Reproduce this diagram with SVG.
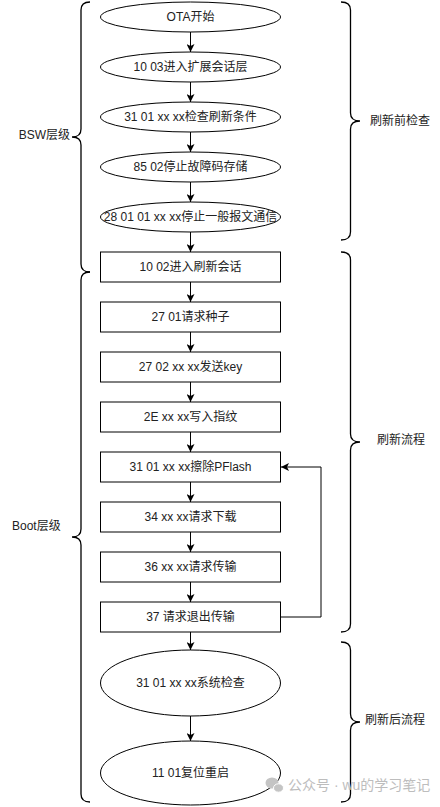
<svg xmlns="http://www.w3.org/2000/svg" width="440" height="807" viewBox="0 0 440 807">
<style>
.n{fill:#fff;stroke:#000;stroke-width:1}
.t{font-family:"Liberation Sans","Noto Sans CJK SC",sans-serif;font-size:12px;fill:#222;text-anchor:middle}
.l{font-family:"Liberation Sans","Noto Sans CJK SC",sans-serif;font-size:12px;fill:#222}
.c{fill:none;stroke:#000;stroke-width:1}
.b{fill:none;stroke:#000;stroke-width:1.3}
.w{font-family:"Liberation Sans","Noto Sans CJK SC",sans-serif;font-size:14px;fill:#bdbdbd}
</style>
<defs>
<marker id="arr" markerUnits="userSpaceOnUse" markerWidth="10" markerHeight="8" viewBox="0 0 10 8" refX="9" refY="4" orient="auto">
<path d="M1,0 L9,4 L1,8 L3,4 Z" fill="#000"/>
</marker>
</defs>
<rect width="440" height="807" fill="#fff"/>
<g id="connectors">
<line class="c" x1="190.5" y1="32" x2="190.5" y2="52" marker-end="url(#arr)"/>
<line class="c" x1="190.5" y1="82" x2="190.5" y2="102" marker-end="url(#arr)"/>
<line class="c" x1="190.5" y1="132" x2="190.5" y2="152" marker-end="url(#arr)"/>
<line class="c" x1="190.5" y1="182" x2="190.5" y2="202" marker-end="url(#arr)"/>
<line class="c" x1="190.5" y1="232" x2="190.5" y2="252" marker-end="url(#arr)"/>
<line class="c" x1="190.5" y1="282" x2="190.5" y2="302" marker-end="url(#arr)"/>
<line class="c" x1="190.5" y1="332" x2="190.5" y2="352" marker-end="url(#arr)"/>
<line class="c" x1="190.5" y1="382" x2="190.5" y2="402" marker-end="url(#arr)"/>
<line class="c" x1="190.5" y1="432" x2="190.5" y2="452" marker-end="url(#arr)"/>
<line class="c" x1="190.5" y1="482" x2="190.5" y2="502" marker-end="url(#arr)"/>
<line class="c" x1="190.5" y1="532" x2="190.5" y2="552" marker-end="url(#arr)"/>
<line class="c" x1="190.5" y1="582" x2="190.5" y2="602" marker-end="url(#arr)"/>
<line class="c" x1="190.5" y1="632" x2="190.5" y2="650" marker-end="url(#arr)"/>
<line class="c" x1="190.5" y1="716" x2="190.5" y2="741" marker-end="url(#arr)"/>
<polyline class="c" points="280.5,617 321,617 321,467 281,467" marker-end="url(#arr)"/>
</g>
<g id="n1"><ellipse class="n" cx="190.5" cy="17" rx="90" ry="15"/><text class="t" x="190.5" y="21">OTA开始</text></g>
<g id="n2"><ellipse class="n" cx="190.5" cy="67" rx="90" ry="15"/><text class="t" x="190.5" y="71">10 03进入扩展会话层</text></g>
<g id="n3"><ellipse class="n" cx="190.5" cy="117" rx="90" ry="15"/><text class="t" x="190.5" y="121">31 01 xx xx检查刷新条件</text></g>
<g id="n4"><ellipse class="n" cx="190.5" cy="167" rx="90" ry="15"/><text class="t" x="190.5" y="171">85 02停止故障码存储</text></g>
<g id="n5"><ellipse class="n" cx="190.5" cy="217" rx="90" ry="15"/><text class="t" x="190.5" y="221">28 01 01 xx xx停止一般报文通信</text></g>
<g id="n6"><rect class="n" x="100.5" y="252" width="180" height="30"/><text class="t" x="190.5" y="271">10 02进入刷新会话</text></g>
<g id="n7"><rect class="n" x="100.5" y="302" width="180" height="30"/><text class="t" x="190.5" y="321">27 01请求种子</text></g>
<g id="n8"><rect class="n" x="100.5" y="352" width="180" height="30"/><text class="t" x="190.5" y="371">27 02 xx xx发送key</text></g>
<g id="n9"><rect class="n" x="100.5" y="402" width="180" height="30"/><text class="t" x="190.5" y="421">2E xx xx写入指纹</text></g>
<g id="n10"><rect class="n" x="100.5" y="452" width="180" height="30"/><text class="t" x="190.5" y="471">31 01 xx xx擦除PFlash</text></g>
<g id="n11"><rect class="n" x="100.5" y="502" width="180" height="30"/><text class="t" x="190.5" y="521">34 xx xx请求下载</text></g>
<g id="n12"><rect class="n" x="100.5" y="552" width="180" height="30"/><text class="t" x="190.5" y="571">36 xx xx请求传输</text></g>
<g id="n13"><rect class="n" x="100.5" y="602" width="180" height="30"/><text class="t" x="190.5" y="621">37 请求退出传输</text></g>
<g id="n14"><ellipse class="n" cx="190.5" cy="683" rx="90" ry="33"/><text class="t" x="190.5" y="687">31 01 xx xx系统检查</text></g>
<g id="n15"><ellipse class="n" cx="190.5" cy="773" rx="90" ry="32"/><text class="t" x="190.5" y="777">11 01复位重启</text></g>
<g id="brace-bsw"><path class="b" d="M90,2 Q81,2 81,10 L81,129 Q81,137 72,137 Q81,137 81,145 L81,264 Q81,272 90,272"/><text class="l" x="70" y="139" text-anchor="end">BSW层级</text></g>
<g id="brace-boot"><path class="b" d="M90,272 Q81,272 81,280 L81,529 Q81,537 72,537 Q81,537 81,545 L81,794 Q81,802 90,802"/><text class="l" x="12" y="530">Boot层级</text></g>
<g id="brace-pre"><path class="b" d="M341,2 Q350.5,2 350.5,10 L350.5,113 Q350.5,121 360,121 Q350.5,121 350.5,129 L350.5,232 Q350.5,240 341,240"/><text class="l" x="370" y="125">刷新前检查</text></g>
<g id="brace-flash"><path class="b" d="M341,252 Q350.5,252 350.5,260 L350.5,434 Q350.5,442 360,442 Q350.5,442 350.5,450 L350.5,624 Q350.5,632 341,632"/><text class="l" x="377" y="444">刷新流程</text></g>
<g id="brace-post"><path class="b" d="M341,642 Q350.5,642 350.5,650 L350.5,714 Q350.5,722 360,722 Q350.5,722 350.5,730 L350.5,794 Q350.5,802 341,802"/><text class="l" x="365" y="724">刷新后流程</text></g>
<g id="watermark">
<ellipse cx="272" cy="783" rx="6.5" ry="5.5" fill="#c4c4c4"/>
<ellipse cx="278.5" cy="788" rx="5" ry="4.2" fill="#c4c4c4" stroke="#fff" stroke-width="1"/>
<text class="w" x="288" y="790">公众号 · wu的学习笔记</text>
</g>
</svg>
